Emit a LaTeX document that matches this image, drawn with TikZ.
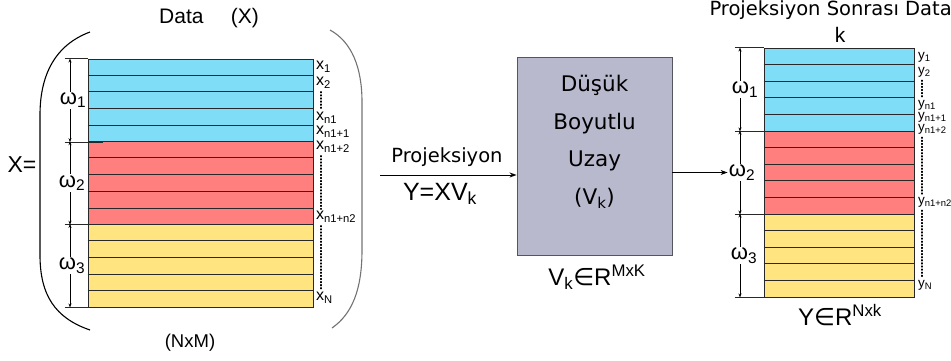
\documentclass[tikz,border=0pt]{standalone}
\usepackage{fontspec}
\setmainfont{Liberation Sans}
\newfontfamily\dv{DejaVu Sans}
\usetikzlibrary{positioning, arrows.meta, calc}
\definecolor{cyanFill}{RGB}{127,221,247}
\definecolor{redFill}{RGB}{255,127,127}
\definecolor{yelFill}{RGB}{255,228,128}
\definecolor{boxFill}{RGB}{185,185,206}
\definecolor{boxBrd}{RGB}{85,85,95}
\definecolor{rowBrd}{RGB}{40,40,40}
\tikzset{
  every node/.style={font=\fontsize{21}{22}\selectfont},
  BAND/.style={draw=rowBrd, line width=0.9pt, inner sep=0pt},
  CYN/.style={BAND, fill=cyanFill},
  RED/.style={BAND, fill=redFill},
  YEL/.style={BAND, fill=yelFill},
  UZB/.style={draw=boxBrd, line width=0.9pt, fill=boxFill, inner sep=0pt},
  RS/.style={draw=rowBrd, line width=1pt},
  TCK/.style={draw=rowBrd, line width=0.8pt},
  DIM/.style={{Stealth[length=4pt,width=3pt]}-{Stealth[length=4pt,width=3pt]}, line width=0.6pt},
  OM/.style={fill=white, inner sep=1pt, font=\fontsize{22}{22}\selectfont},
  XL/.style={anchor=west, inner sep=0pt, font=\fontsize{16}{16}\selectfont},
  YL/.style={anchor=west, inner sep=0pt, font=\fontsize{13.5}{14}\selectfont},
  DOTS/.style={dotted, line width=1.1pt, line cap=round},
  AR/.style={-{Stealth[length=7pt,width=5pt]}, line width=0.9pt},
}
\newcommand{\rowsep}[1]{%
  \foreach \f in {0.2,0.4,0.6,0.8}
    \draw[RS] ($(#1.north west)!\f!(#1.south west)$) -- ($(#1.north east)!\f!(#1.south east)$);}

\begin{document}
\begin{tikzpicture}[x=1pt, y=1pt, yscale=-1]
\useasboundingbox (0,0) rectangle (951,360);

%% ═══════════════════════════════════════════════════════════════════════════
%%  Left — data matrix X (NxM)
%% ═══════════════════════════════════════════════════════════════════════════

\def\hb{82.67}
\node[CYN, minimum width=225pt, minimum height=\hb pt] (XB1) at (200.5,100.33) {};
\node[RED, minimum width=225pt, minimum height=\hb pt] (XB2) at (200.5,183) {};
\node[YEL, minimum width=225pt, minimum height=\hb pt] (XB3) at (200.5,265.67) {};
\rowsep{XB1}
\rowsep{XB2}
\rowsep{XB3}

\draw[TCK] ([xshift=-23pt]XB1.north west) -- (XB1.north west);
\draw[TCK] ([xshift=-23pt]XB1.south west) -- ([xshift=15pt]XB1.south west);
\draw[TCK] ([xshift=-23pt]XB2.south west) -- ([xshift=15pt]XB2.south west);
\draw[TCK] ([xshift=-23pt]XB3.south west) -- ([xshift=15pt]XB3.south west);

\coordinate (LX) at (70,0);
\draw[DIM] (XB1.north -| LX) -- (XB1.south -| LX) node[OM, midway, xshift=3pt] (W1) {ω\textsubscript{1}};
\draw[DIM] (XB2.north -| LX) -- (XB2.south -| LX) node[OM, midway, xshift=2pt] (W2) {ω\textsubscript{2}};
\draw[DIM] (XB3.north -| LX) -- (XB3.south -| LX) node[OM, midway, xshift=2pt] (W3) {ω\textsubscript{3}};

\node[XL] (X1) at (316,67) {x\textsubscript{1}};
\node[XL] (X2) at (316,83) {x\textsubscript{2}};
\node[XL] (XN1) at (316,117.5) {x\textsubscript{n1}};
\node[XL] (XN11) at (316,132) {x\textsubscript{n1+1}};
\node[XL] (XN12) at (316,147) {x\textsubscript{n1+2}};
\node[XL] (XN12B) at (316,217) {x\textsubscript{n1+n2}};
\node[XL] (XN) at (316,298) {x\textsubscript{N}};
\draw[DOTS] ([xshift=5pt,yshift=3pt]X2.south west) -- ([xshift=5pt,yshift=-2pt]XN1.north west);
\draw[DOTS] ([xshift=5pt,yshift=3pt]XN12.south west) -- ([xshift=5pt,yshift=-2pt]XN12B.north west);
\draw[DOTS] ([xshift=5pt,yshift=3pt]XN12B.south west) -- ([xshift=5pt,yshift=-2pt]XN.north west);

\draw[line width=1.1pt] (90,32) .. controls (55,45) and (40,75) .. (40,115) -- (40,255)
  .. controls (40,295) and (55,318) .. (90,330);
\draw[black!55, line width=1.1pt] (330,30) .. controls (352,42) and (362,68) .. (362,102) -- (362,250)
  .. controls (362,290) and (352,314) .. (332,328);

\node (DX) at (209,18) {Data\hspace{1.3em}(X)};
\node[font=\fontsize{23}{24}\selectfont] (XEQ) at (22,165) {X=};
\node[font=\fontsize{18.5}{19}\selectfont] (NXM) at (190,343) {(NxM)};

%% ═══════════════════════════════════════════════════════════════════════════
%%  Middle — projection into the low dimensional space
%% ═══════════════════════════════════════════════════════════════════════════

\node[UZB, minimum width=155pt, minimum height=198pt] (UZ) at (594.5,156) {};
\node[align=center, font=\dv\fontsize{21.5}{37.5}\selectfont] (UZT) at ([yshift=-14pt]UZ.center)
  {Düşük\\Boyutlu\\Uzay\\(V\textsubscript{k})};
\node[font=\fontsize{24}{25}\selectfont] (VK) at (597,277) {V\textsubscript{k}{\dv ∈}R\textsuperscript{MxK}};

\coordinate (PJ) at (380,175);
\draw[AR] (PJ) -- (PJ -| UZ.west);
\node[font=\dv\fontsize{19.5}{20}\selectfont] (PJT) at (447,157) {Projeksiyon};
\node[font=\fontsize{25}{26}\selectfont] (YX) at (440,194) {Y=XV\textsubscript{k}};

%% ═══════════════════════════════════════════════════════════════════════════
%%  Right — projected data Y (Nxk)
%% ═══════════════════════════════════════════════════════════════════════════

\node[CYN, minimum width=150pt, minimum height=83pt] (YB1) at (839,89.5) {};
\node[RED, minimum width=150pt, minimum height=83pt] (YB2) at (839,172.5) {};
\node[YEL, minimum width=150pt, minimum height=83pt] (YB3) at (839,255.5) {};
\rowsep{YB1}
\rowsep{YB2}
\rowsep{YB3}

\draw[TCK] ([xshift=-29pt]YB1.north west) -- (YB1.north west);
\draw[TCK] ([xshift=-29pt]YB1.south west) -- ([xshift=9pt]YB1.south west);
\draw[TCK] ([xshift=-29pt]YB2.south west) -- ([xshift=9pt]YB2.south west);
\draw[TCK] ([xshift=-29pt]YB3.south west) -- (YB3.south west);

\coordinate (RX) at (740,0);
\draw[DIM] (YB1.north -| RX) -- (YB1.south -| RX) node[OM, midway, xshift=5pt] (V1) {ω\textsubscript{1}};
\draw[DIM] (YB2.north -| RX) -- (YB2.south -| RX) node[OM, midway, xshift=2pt] (V2) {ω\textsubscript{2}};
\draw[DIM] (YB3.north -| RX) -- (YB3.south -| RX) node[OM, midway, xshift=4pt] (V3) {ω\textsubscript{3}};

\draw[AR] (UZ.east |- V2) -- (V2.west);

\node[YL] (Y1) at (918,57) {y\textsubscript{1}};
\node[YL] (Y2) at (918,72) {y\textsubscript{2}};
\node[YL] (YN1) at (918,105) {y\textsubscript{n1}};
\node[YL] (YN11) at (918,117) {y\textsubscript{n1+1}};
\node[YL] (YN12) at (918,129) {y\textsubscript{n1+2}};
\node[YL] (YN12B) at (918,202) {y\textsubscript{n1+n2}};
\node[YL] (YN) at (918,285) {y\textsubscript{N}};
\draw[DOTS] ([xshift=4pt,yshift=3pt]Y2.south west) -- ([xshift=4pt,yshift=-2pt]YN1.north west);
\draw[DOTS] ([xshift=4pt,yshift=3pt]YN12.south west) -- ([xshift=4pt,yshift=-2pt]YN12B.north west);
\draw[DOTS] ([xshift=4pt,yshift=3pt]YN12B.south west) -- ([xshift=4pt,yshift=-2pt]YN.north west);

\node[anchor=west, font=\dv\fontsize{19.5}{20}\selectfont] (PSD) at (706,10) {Projeksiyon Sonrası Data};
\node (KK) at (840,35) {k};
\node[font=\fontsize{24}{26}\selectfont] (YR) at (840,315) {Y{\dv ∈}R\textsuperscript{Nxk}};

\end{tikzpicture}
\end{document}
